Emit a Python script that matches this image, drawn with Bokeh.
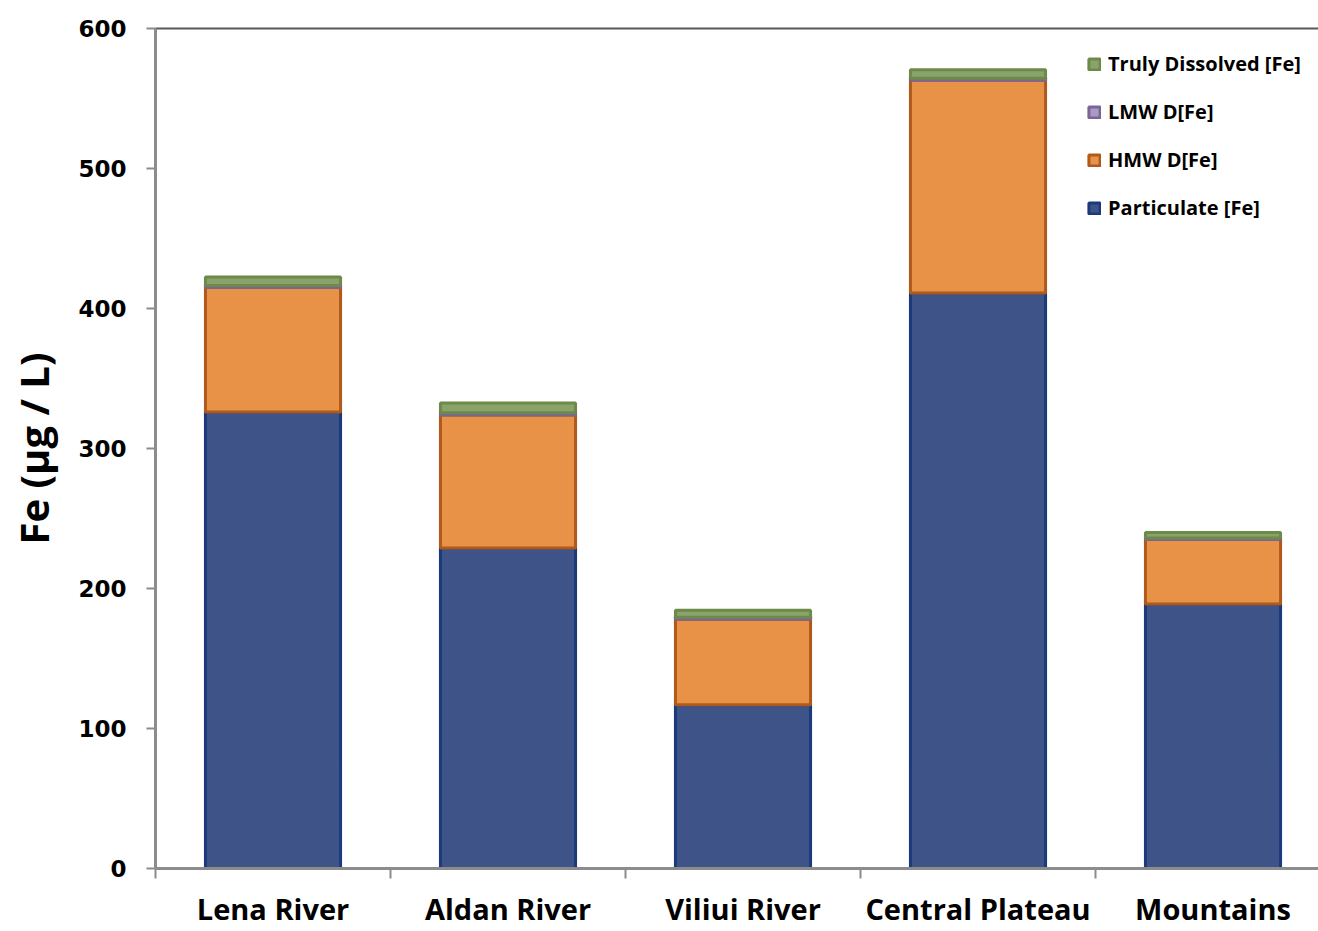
import numpy as np
from bokeh.plotting import figure
from bokeh.models import (Range1d, FixedTicker, LinearAxis, Legend, LegendItem,
                          ColumnDataSource)
from bokeh.embed import file_html
from bokeh.resources import INLINE

categories = ["Lena River", "Aldan River", "Viliui River", "Central Plateau", "Mountains"]
particulate = [326, 229, 117, 411, 189]
hmw = [89, 95, 61, 152, 46]
lmw = [1.5, 1.5, 1.5, 1.5, 1.0]
truly_dissolved = [6, 7, 5, 6, 4]
y_ticks = [0, 100, 200, 300, 400, 500, 600]

series = ["particulate", "hmw", "lmw", "td"]
labels = ["Particulate [Fe]", "HMW D[Fe]", "LMW D[Fe]", "Truly Dissolved [Fe]"]
fills = ["#3E5488", "#E89247", "#A99BC6", "#8AA36A"]
lines = ["#1B3A7C", "#B0591D", "#7C6596", "#6E8A4A"]

x = np.arange(len(categories)) + 0.5
src = ColumnDataSource(dict(x=x, particulate=particulate, hmw=hmw, lmw=lmw, td=truly_dissolved))

W, H = 1318, 931
p = figure(width=W, height=H, output_backend="svg", toolbar_location=None,
           x_range=Range1d(0, 1163 / 235), y_range=Range1d(0, 600),
           min_border_left=155, min_border_right=0, min_border_top=28, min_border_bottom=63)
p.outline_line_color = None
p.grid.visible = False
p.background_fill_color = "white"

rs = p.vbar_stack(series, x="x", width=0.575, source=src,
                  fill_color=fills, line_color=lines, line_width=3)

# axes
xa = p.xaxis[0]
xa.ticker = FixedTicker(ticks=list(x), minor_ticks=list(range(len(categories) + 1)))
xa.major_label_overrides = {float(v): c for v, c in zip(x, categories)}
xa.major_tick_line_color = None
xa.minor_tick_in = 0
xa.minor_tick_out = 10
xa.minor_tick_line_color = "#8c8c8c"
xa.minor_tick_line_width = 2
xa.axis_line_color = "#8c8c8c"
xa.axis_line_width = 3
xa.major_label_standoff = 10
xa.major_label_text_font = "Open Sans"
xa.major_label_text_font_style = "bold"
xa.major_label_text_font_size = "29px"
xa.major_label_text_color = "#000000"

ya = p.yaxis[0]
ya.ticker = FixedTicker(ticks=y_ticks)
ya.minor_tick_line_color = None
ya.major_tick_in = 0
ya.major_tick_out = 9
ya.major_tick_line_color = "#8c8c8c"
ya.major_tick_line_width = 2
ya.axis_line_color = "#8c8c8c"
ya.axis_line_width = 3
ya.major_label_standoff = 20
ya.major_label_text_font = "DejaVu Sans"
ya.major_label_text_font_style = "bold"
ya.major_label_text_font_size = "23px"
ya.major_label_text_color = "#000000"
ya.axis_label = "Fe (µg / L)"
ya.axis_label_text_font = "Open Sans"
ya.axis_label_text_font_style = "bold"
ya.axis_label_text_font_size = "40px"
ya.axis_label_text_color = "#000000"
ya.axis_label_standoff = 14

top = LinearAxis(ticker=FixedTicker(ticks=[]), axis_line_color="#595959", axis_line_width=2,
                 major_label_text_font_size="0px", major_tick_line_color=None,
                 minor_tick_line_color=None)
p.add_layout(top, "above")

items = [LegendItem(label=labels[i], renderers=[rs[i]]) for i in [3, 2, 1, 0]]
legend = Legend(items=items, location=(932, 647), padding=0, spacing=21,
                glyph_width=14, glyph_height=14, label_height=20, label_standoff=7,
                border_line_color=None, background_fill_alpha=0,
                label_text_font="Open Sans", label_text_font_style="bold",
                label_text_font_size="20px", label_text_color="#000000")
p.add_layout(legend, "center")

open("out.html", "w").write(file_html(p, INLINE))
